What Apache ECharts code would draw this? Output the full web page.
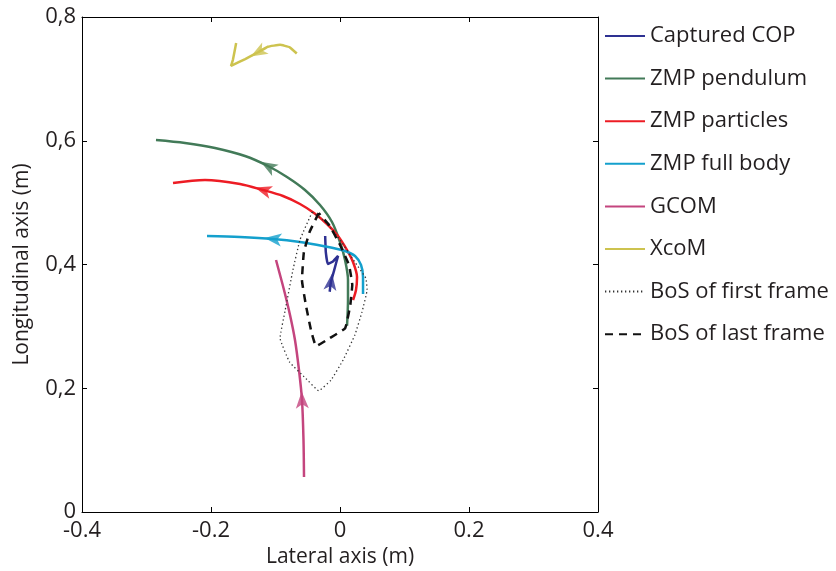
<!DOCTYPE html>
<html>
<head>
<meta charset="utf-8">
<script src="https://cdn.jsdelivr.net/npm/echarts@6/dist/echarts.min.js"></script>
<style>
html,body{margin:0;padding:0;background:#fff;}
#chart{width:836px;height:571px;}
</style>
</head>
<body>
<div id="chart"></div>
<script>
// ---- Data (lateral m, longitudinal m) ----
var seriesNames = ['Captured COP','ZMP pendulum','ZMP particles','ZMP full body','GCOM','XcoM','BoS of first frame','BoS of last frame'];

var capturedCOP = [[-0.016,0.356],[-0.014,0.372],[-0.009,0.391],[-0.003,0.414],[-0.011,0.405],[-0.019,0.401],[-0.022,0.420],[-0.023,0.446]];
var zmpPendulum = [[0.0109,0.3010],[0.0124,0.3426],[0.0124,0.3749],[0.0078,0.4073],[0.0,0.4364],[-0.0124,0.4687],[-0.0310,0.4962],[-0.0543,0.5204],[-0.0822,0.5414],[-0.1116,0.5592],[-0.1473,0.5754],[-0.1938,0.5883],[-0.2403,0.5964],[-0.2853,0.6012]];
var zmpParticles = [[0.0202,0.3426],[0.0248,0.3588],[0.0264,0.3798],[0.0202,0.4040],[0.0109,0.4234],[-0.0031,0.4461],[-0.0202,0.4655],[-0.0403,0.4832],[-0.0620,0.4978],[-0.0884,0.5107],[-0.1194,0.5204],[-0.1550,0.5301],[-0.2093,0.5366],[-0.2589,0.5317]];
var zmpFullBody = [[0.0357,0.3523],[0.0357,0.3798],[0.0326,0.3992],[0.0233,0.4137],[0.0078,0.4218],[-0.0264,0.4299],[-0.0620,0.4364],[-0.1039,0.4412],[-0.1550,0.4444],[-0.2062,0.4461]];
var gcom = [[-0.0558,0.0566],[-0.0566,0.1164],[-0.0589,0.1810],[-0.0636,0.2295],[-0.0698,0.2780],[-0.0775,0.3184],[-0.0868,0.3588],[-0.0992,0.4073]];
var xcom = [[-0.067,0.741],[-0.078,0.751],[-0.093,0.755],[-0.112,0.752],[-0.127,0.743],[-0.147,0.732],[-0.169,0.721],[-0.166,0.731],[-0.161,0.758]];
var bosFirst = [[-0.043,0.485],[-0.062,0.440],[-0.073,0.391],[-0.085,0.326],[-0.093,0.281],[-0.078,0.242],[-0.054,0.217],[-0.033,0.196],[-0.014,0.213],[0.005,0.246],[0.023,0.286],[0.034,0.323],[0.042,0.359],[0.040,0.378],[0.023,0.404],[0.000,0.440],[-0.023,0.469],[-0.043,0.485]];
var bosLast = [[-0.033,0.483],[-0.047,0.453],[-0.056,0.420],[-0.059,0.375],[-0.053,0.335],[-0.045,0.294],[-0.037,0.268],[-0.016,0.281],[0.008,0.297],[0.016,0.335],[0.019,0.367],[0.014,0.399],[0.000,0.432],[-0.017,0.464],[-0.033,0.483]];

// index of the data point where each trajectory's arrowhead sits
var arrowAt = {'Captured COP':1,'ZMP pendulum':9,'ZMP particles':10,'ZMP full body':7,'GCOM':2,'XcoM':4};

var xTicks = {min:-0.4, max:0.4, interval:0.2};
var yTicks = {min:0, max:0.8, interval:0.2};

var colors = {
  'Captured COP':'#2e3192','ZMP pendulum':'#427a58','ZMP particles':'#ed1c24',
  'ZMP full body':'#14a0cd','GCOM':'#c4457e','XcoM':'#cdc34f',
  'BoS of first frame':'#333333','BoS of last frame':'#111111'
};
var dataMap = {
  'Captured COP':capturedCOP,'ZMP pendulum':zmpPendulum,'ZMP particles':zmpParticles,
  'ZMP full body':zmpFullBody,'GCOM':gcom,'XcoM':xcom,
  'BoS of first frame':bosFirst,'BoS of last frame':bosLast
};

var FONT = 'Open Sans';
var TXT = '#231f20';
var chart = echarts.init(document.getElementById('chart'), null, {renderer:'canvas'});

var lineSeries = seriesNames.map(function(n){
  var type = 'solid', w = 2.5, sm = 0.3;
  if (n === 'BoS of first frame') { type = [1.3, 2.7]; w = 1.3; sm = 0.1; }
  if (n === 'BoS of last frame') { type = [8, 6]; w = 2.5; sm = 0.1; }
  if (n === 'Captured COP' || n === 'XcoM') { sm = 0.1; }
  return {
    name:n, type:'line', data:dataMap[n], showSymbol:false, symbol:'none',
    smooth:sm,
    lineStyle:{color:colors[n], width:w, type:type},
    itemStyle:{color:colors[n]},
    animation:false, z:2
  };
});

function axisCommon(){
  return {
    axisLine:{show:true, onZero:false, lineStyle:{color:'#000', width:1}},
    axisTick:{show:true, inside:true, length:5, lineStyle:{color:'#000'}},
    splitLine:{show:false}
  };
}

var option = {
  backgroundColor:'#fff',
  animation:false,
  grid:{left:82, right:238, top:17, bottom:59, show:false, containLabel:false, outerBoundsMode:'none'},
  legend:{
    orient:'vertical', left:599, top:20,
    itemWidth:40, itemHeight:12, itemGap:20.6,
    data:seriesNames,
    itemStyle:{opacity:0},
    textStyle:{fontFamily:FONT, fontSize:22, color:TXT, lineHeight:22},
    selectedMode:false
  },
  xAxis:[
    Object.assign(axisCommon(), {
      type:'value', min:xTicks.min, max:xTicks.max, interval:xTicks.interval, position:'bottom',
      name:'Lateral axis (m)', nameLocation:'middle', nameGap:27,
      nameTextStyle:{fontFamily:FONT, fontSize:21, color:TXT},
      axisLabel:{fontFamily:FONT, fontSize:22, color:TXT, margin:8,
        formatter:function(v){return v===0?'0':v.toFixed(1);}}
    }),
    Object.assign(axisCommon(), {
      type:'value', min:xTicks.min, max:xTicks.max, interval:xTicks.interval, position:'top',
      axisLabel:{show:false}
    })
  ],
  yAxis:[
    Object.assign(axisCommon(), {
      type:'value', min:yTicks.min, max:yTicks.max, interval:yTicks.interval, position:'left',
      name:'Longitudinal axis (m)', nameLocation:'middle', nameGap:49,
      nameTextStyle:{fontFamily:FONT, fontSize:21, color:TXT},
      axisLabel:{fontFamily:FONT, fontSize:22, color:TXT, margin:6,
        formatter:function(v){return v===0?'0':v.toFixed(1).replace('.',',');}}
    }),
    Object.assign(axisCommon(), {
      type:'value', min:yTicks.min, max:yTicks.max, interval:yTicks.interval, position:'right',
      axisLabel:{show:false}
    })
  ],
  series:lineSeries
};
chart.setOption(option);

// arrowheads: rotate along the trajectory direction in pixel space
var arrowPath = 'path://M0,0 L6,16 L0,12 L-6,16 Z';
var arrowSeries = Object.keys(arrowAt).map(function(n){
  var d = dataMap[n], i = arrowAt[n];
  var p1 = chart.convertToPixel({gridIndex:0}, d[i-1]);
  var p2 = chart.convertToPixel({gridIndex:0}, d[i]);
  var ang = Math.atan2(-(p2[1]-p1[1]), p2[0]-p1[0]) * 180 / Math.PI;
  return {
    type:'scatter', name:n + ' arrow', data:[d[i]],
    symbol:arrowPath, symbolSize:[13,17], symbolRotate:ang-90,
    itemStyle:{color:colors[n]}, z:3, animation:false, silent:true
  };
});
chart.setOption({series:lineSeries.concat(arrowSeries)});
</script>
</body>
</html>
